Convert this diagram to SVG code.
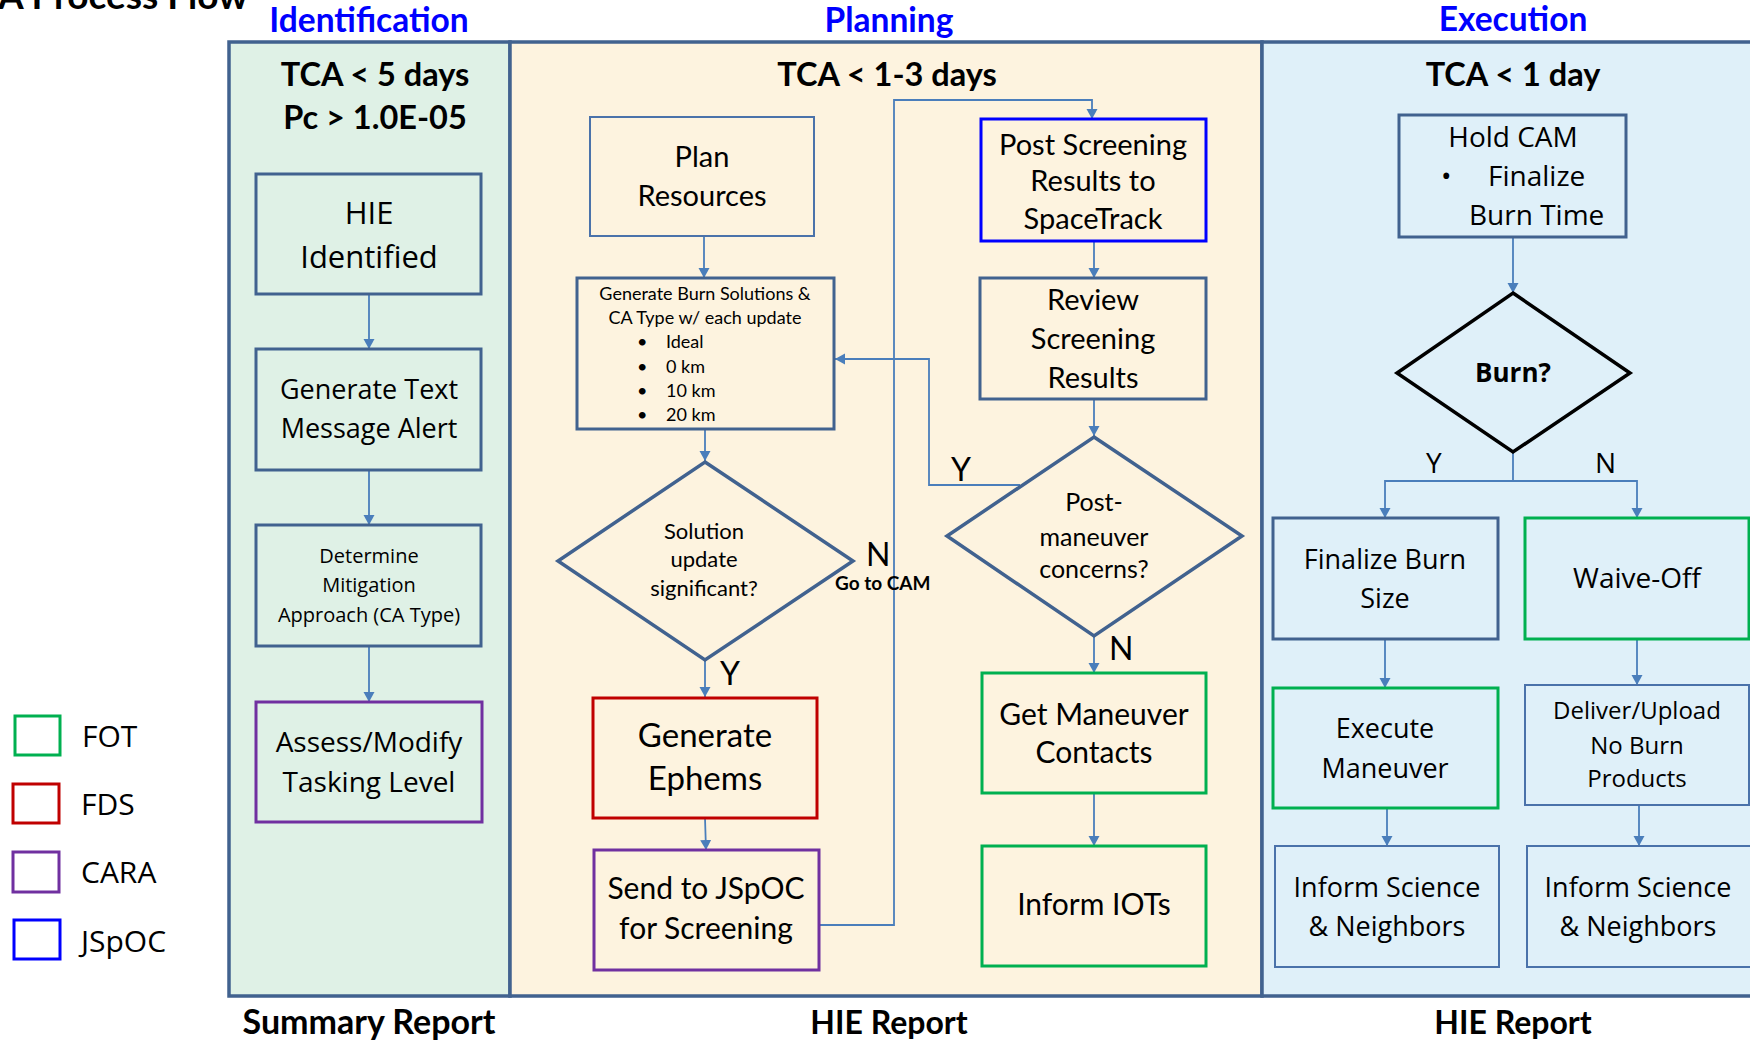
<svg xmlns="http://www.w3.org/2000/svg" width="1750" height="1041" viewBox="0 0 1750 1041">
  <defs>
    <marker id="arrow" markerUnits="userSpaceOnUse" markerWidth="12" markerHeight="12" refX="10" refY="5.5" orient="auto">
      <path d="M0,0 L10,5.5 L0,11 z" fill="#4a7ebb"/>
    </marker>
    <style>
      .cal { font-family: Lato, "Liberation Sans", sans-serif; fill: #000; }
      .seg { font-family: "Open Sans", "Noto Sans", sans-serif; fill: #000; }
      .b { font-weight: bold; }
      .hdr { font-family: Lato, "Liberation Sans", sans-serif; font-weight: bold; fill: #0000ff; font-size: 33.5px; }
      .mid { text-anchor: middle; }
      .panel { stroke: #41628f; stroke-width: 3.5; }
      .thick { fill: none; stroke: #41628f; stroke-width: 3; }
      .thin { fill: none; stroke: #4a72aa; stroke-width: 2; }
      .fot { fill: none; stroke: #00b050; stroke-width: 3; }
      .fds { fill: none; stroke: #c00000; stroke-width: 3; }
      .cara { fill: none; stroke: #7030a0; stroke-width: 3; }
      .jspoc { fill: none; stroke: #0000ff; stroke-width: 3; }
      .dia { fill: none; stroke: #41628f; stroke-width: 3.5; stroke-linejoin: miter; }
      .conn { fill: none; stroke: #4a7ebb; stroke-width: 1.8; }
    </style>
  </defs>

  <rect width="1750" height="1041" fill="#ffffff"/>

  <!-- title, partly above the page edge -->
  <text class="cal b" x="-2" y="9" font-size="37">A Process Flow</text>

  <!-- phase panels -->
  <g id="panels">
    <rect class="panel" x="229" y="42" width="281" height="954" fill="#dff1e6"/>
    <rect class="panel" x="510" y="42" width="752" height="954" fill="#fdf3df"/>
    <rect class="panel" x="1262" y="42" width="500" height="954" fill="#dff0f9"/>
  </g>

  <!-- phase headings -->
  <text class="hdr mid" x="369" y="32">Identification</text>
  <text class="hdr mid" x="889" y="32">Planning</text>
  <text class="hdr mid" x="1513" y="31">Execution</text>

  <text class="cal b mid" x="375" y="86" font-size="32.5">TCA &lt; 5 days</text>
  <text class="cal b mid" x="375" y="129" font-size="32.5">Pc &gt; 1.0E-05</text>
  <text class="cal b mid" x="887" y="86" font-size="32.5">TCA &lt; 1-3 days</text>
  <text class="cal b mid" x="1513" y="86" font-size="32.5">TCA &lt; 1 day</text>

  <text class="cal b mid" x="369" y="1034" font-size="34">Summary Report</text>
  <text class="cal b mid" x="889" y="1034" font-size="32">HIE Report</text>
  <text class="cal b mid" x="1513" y="1034" font-size="32">HIE Report</text>

  <!-- legend -->
  <g id="legend">
    <rect class="fot" x="15" y="716" width="45" height="39"/>
    <text class="seg" x="82" y="747" font-size="30">FOT</text>
    <rect class="fds" x="13" y="784" width="46" height="39"/>
    <text class="seg" x="81" y="815" font-size="30">FDS</text>
    <rect class="cara" x="13" y="852" width="46" height="40"/>
    <text class="seg" x="81" y="883" font-size="30">CARA</text>
    <rect class="jspoc" x="14" y="920" width="46" height="39"/>
    <text class="seg" x="81" y="952" font-size="30">JSpOC</text>
  </g>

  <!-- connectors -->
  <g id="connectors">
    <!-- identification column -->
    <line class="conn" x1="369" y1="294" x2="369" y2="349" marker-end="url(#arrow)"/>
    <line class="conn" x1="369" y1="470" x2="369" y2="525" marker-end="url(#arrow)"/>
    <line class="conn" x1="369" y1="646" x2="369" y2="702" marker-end="url(#arrow)"/>
    <!-- planning, left column -->
    <line class="conn" x1="704" y1="236" x2="704" y2="278" marker-end="url(#arrow)"/>
    <line class="conn" x1="705" y1="429" x2="705" y2="461" marker-end="url(#arrow)"/>
    <line class="conn" x1="705" y1="660" x2="705" y2="697" marker-end="url(#arrow)"/>
    <line class="conn" x1="705" y1="818" x2="706" y2="850" marker-end="url(#arrow)"/>
    <!-- send to screening, up and over to SpaceTrack posting -->
    <polyline class="conn" points="819,925 894,925 894,100 1092,100 1092,119" marker-end="url(#arrow)"/>
    <!-- planning, right column -->
    <line class="conn" x1="1094" y1="241" x2="1094" y2="278" marker-end="url(#arrow)"/>
    <line class="conn" x1="1094" y1="399" x2="1094" y2="436" marker-end="url(#arrow)"/>
    <!-- Y: back to burn solutions -->
    <polyline class="conn" points="1020,485 929,485 929,359 835,359" marker-end="url(#arrow)"/>
    <line class="conn" x1="1094" y1="636" x2="1094" y2="673" marker-end="url(#arrow)"/>
    <line class="conn" x1="1094" y1="793" x2="1094" y2="846" marker-end="url(#arrow)"/>
    <!-- execution -->
    <line class="conn" x1="1513" y1="237" x2="1513" y2="293" marker-end="url(#arrow)"/>
    <polyline class="conn" points="1513,452 1513,481"/>
    <polyline class="conn" points="1513,481 1385,481 1385,518" marker-end="url(#arrow)"/>
    <polyline class="conn" points="1513,481 1637,481 1637,518" marker-end="url(#arrow)"/>
    <line class="conn" x1="1385" y1="639" x2="1385" y2="688" marker-end="url(#arrow)"/>
    <line class="conn" x1="1637" y1="639" x2="1637" y2="685" marker-end="url(#arrow)"/>
    <line class="conn" x1="1387" y1="808" x2="1387" y2="846" marker-end="url(#arrow)"/>
    <line class="conn" x1="1639" y1="805" x2="1639" y2="846" marker-end="url(#arrow)"/>
  </g>

  <!-- connector labels -->
  <text class="cal" x="866" y="566" font-size="32">N</text>
  <text class="cal b" x="835" y="590" font-size="19">Go to CAM</text>
  <text class="cal" x="720" y="685" font-size="32">Y</text>
  <text class="cal" x="951" y="481" font-size="32">Y</text>
  <text class="cal" x="1109" y="660" font-size="32">N</text>
  <text class="seg" x="1426" y="473" font-size="28">Y</text>
  <text class="seg" x="1595" y="473" font-size="28">N</text>

  <!-- identification nodes -->
  <g id="hie-identified">
    <rect class="thick" x="256" y="174" width="225" height="120"/>
    <text class="seg mid" x="369" y="224" font-size="31">HIE</text>
    <text class="seg mid" x="369" y="268" font-size="31">Identified</text>
  </g>
  <g id="text-alert">
    <rect class="thick" x="256" y="349" width="225" height="121"/>
    <text class="seg mid" x="369" y="399" font-size="27">Generate Text</text>
    <text class="seg mid" x="369" y="438" font-size="27">Message Alert</text>
  </g>
  <g id="mitigation">
    <rect class="thick" x="256" y="525" width="225" height="121"/>
    <text class="seg mid" x="369" y="563" font-size="20">Determine</text>
    <text class="seg mid" x="369" y="592" font-size="20">Mitigation</text>
    <text class="seg mid" x="369" y="622" font-size="20">Approach (CA Type)</text>
  </g>
  <g id="tasking-level">
    <rect class="cara" x="256" y="702" width="226" height="120"/>
    <text class="seg mid" x="369" y="752" font-size="28">Assess/Modify</text>
    <text class="seg mid" x="369" y="792" font-size="28">Tasking Level</text>
  </g>

  <!-- planning nodes -->
  <g id="plan-resources">
    <rect class="thin" x="590" y="117" width="224" height="119"/>
    <text class="cal mid" x="702" y="167" font-size="29">Plan</text>
    <text class="cal mid" x="702" y="206" font-size="29">Resources</text>
  </g>
  <g id="burn-solutions">
    <rect class="thick" x="577" y="278" width="257" height="151"/>
    <text class="cal mid" x="705" y="300" font-size="18">Generate Burn Solutions &amp;</text>
    <text class="cal mid" x="705" y="324" font-size="18">CA Type w/ each update</text>
    <g class="cal" font-size="18">
      <text x="637" y="348">•</text><text x="666" y="348">Ideal</text>
      <text x="637" y="373">•</text><text x="666" y="373">0 km</text>
      <text x="637" y="397">•</text><text x="666" y="397">10 km</text>
      <text x="637" y="421">•</text><text x="666" y="421">20 km</text>
    </g>
  </g>
  <g id="solution-significant">
    <polygon class="dia" points="705,462 853,561 705,660 558,561"/>
    <text class="cal mid" x="704" y="539" font-size="22">Solution</text>
    <text class="cal mid" x="704" y="567" font-size="22">update</text>
    <text class="cal mid" x="704" y="596" font-size="22">significant?</text>
  </g>
  <g id="generate-ephems">
    <rect class="fds" x="593" y="698" width="224" height="120"/>
    <text class="cal mid" x="705" y="747" font-size="33">Generate</text>
    <text class="cal mid" x="705" y="790" font-size="33">Ephems</text>
  </g>
  <g id="send-to-jspoc">
    <rect class="cara" x="594" y="850" width="225" height="120"/>
    <text class="cal mid" x="706" y="899" font-size="30">Send to JSpOC</text>
    <text class="cal mid" x="706" y="939" font-size="30">for Screening</text>
  </g>
  <g id="post-screening">
    <rect class="jspoc" x="981" y="119" width="225" height="122"/>
    <text class="cal mid" x="1093" y="155" font-size="29">Post Screening</text>
    <text class="cal mid" x="1093" y="191" font-size="29">Results to</text>
    <text class="cal mid" x="1093" y="229" font-size="29">SpaceTrack</text>
  </g>
  <g id="review-screening">
    <rect class="thick" x="980" y="278" width="226" height="121"/>
    <text class="cal mid" x="1093" y="310" font-size="29">Review</text>
    <text class="cal mid" x="1093" y="349" font-size="29">Screening</text>
    <text class="cal mid" x="1093" y="388" font-size="29">Results</text>
  </g>
  <g id="post-maneuver-concerns">
    <polygon class="dia" points="1094,437 1242,536 1094,636 947,536"/>
    <text class="cal mid" x="1094" y="511" font-size="25">Post-</text>
    <text class="cal mid" x="1094" y="546" font-size="25">maneuver</text>
    <text class="cal mid" x="1094" y="578" font-size="25">concerns?</text>
  </g>
  <g id="maneuver-contacts">
    <rect class="fot" x="982" y="673" width="224" height="120"/>
    <text class="cal mid" x="1094" y="725" font-size="30">Get Maneuver</text>
    <text class="cal mid" x="1094" y="763" font-size="30">Contacts</text>
  </g>
  <g id="inform-iots">
    <rect class="fot" x="982" y="846" width="224" height="120"/>
    <text class="cal mid" x="1094" y="915" font-size="30">Inform IOTs</text>
  </g>

  <!-- execution nodes -->
  <g id="hold-cam">
    <rect class="thick" x="1399" y="115" width="227" height="122"/>
    <text class="seg mid" x="1513" y="147" font-size="28">Hold CAM</text>
    <text class="seg" x="1441" y="186" font-size="28">•</text>
    <text class="seg" x="1488" y="186" font-size="28">Finalize</text>
    <text class="seg" x="1469" y="225" font-size="28">Burn Time</text>
  </g>
  <g id="burn-decision">
    <polygon points="1513,293 1630,373 1513,452 1397,373" fill="none" stroke="#000" stroke-width="3.5"/>
    <text class="seg b mid" x="1513" y="382" font-size="26">Burn?</text>
  </g>
  <g id="finalize-burn-size">
    <rect class="thick" x="1273" y="518" width="225" height="121"/>
    <text class="seg mid" x="1385" y="569" font-size="27">Finalize Burn</text>
    <text class="seg mid" x="1385" y="608" font-size="27">Size</text>
  </g>
  <g id="waive-off">
    <rect class="fot" x="1525" y="518" width="224" height="121"/>
    <text class="seg mid" x="1637" y="588" font-size="28">Waive-Off</text>
  </g>
  <g id="execute-maneuver">
    <rect class="fot" x="1273" y="688" width="225" height="120"/>
    <text class="seg mid" x="1385" y="738" font-size="27">Execute</text>
    <text class="seg mid" x="1385" y="778" font-size="27">Maneuver</text>
  </g>
  <g id="no-burn-products">
    <rect class="thin" x="1525" y="685" width="224" height="120"/>
    <text class="seg mid" x="1637" y="719" font-size="24">Deliver/Upload</text>
    <text class="seg mid" x="1637" y="754" font-size="24">No Burn</text>
    <text class="seg mid" x="1637" y="787" font-size="24">Products</text>
  </g>
  <g id="inform-science-burn">
    <rect class="thin" x="1275" y="846" width="224" height="121"/>
    <text class="seg mid" x="1387" y="897" font-size="27">Inform Science</text>
    <text class="seg mid" x="1387" y="936" font-size="27">&amp; Neighbors</text>
  </g>
  <g id="inform-science-waive">
    <rect class="thin" x="1527" y="846" width="230" height="121"/>
    <text class="seg mid" x="1638" y="897" font-size="27">Inform Science</text>
    <text class="seg mid" x="1638" y="936" font-size="27">&amp; Neighbors</text>
  </g>
</svg>
